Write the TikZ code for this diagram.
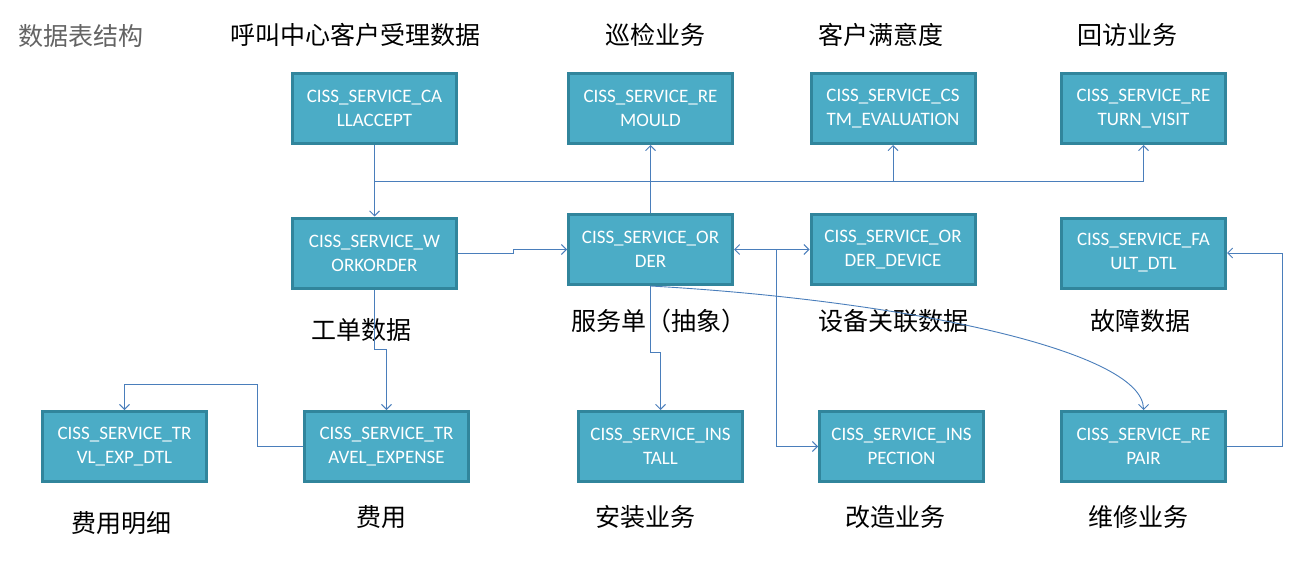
\documentclass[tikz,border=0pt]{standalone}
\usepackage{fontspec}
\usetikzlibrary{arrows.meta}
\newfontfamily\cjk{Noto Sans CJK SC}
\newfontfamily\boxfont{Carlito}
\definecolor{boxfill}{RGB}{75,172,198}
\definecolor{boxedge}{RGB}{49,133,156}
\definecolor{linkblue}{RGB}{74,126,187}
\definecolor{titlegray}{RGB}{100,100,100}

\begin{document}
\begin{tikzpicture}[x=1pt,y=-1pt,
    tbl/.style={draw=boxedge, fill=boxfill, line width=3pt, minimum width=164pt,
        minimum height=70pt, inner sep=0pt, text=white, align=center,
        font=\boxfont\fontsize{19}{24}\selectfont},
    lbl/.style={font=\cjk\fontsize{25}{28}\selectfont},
    conn/.style={->, >={Straight Barb[length=5pt,width=10pt]}, draw=linkblue, line width=0.9pt}]
            \useasboundingbox (0,0) rectangle (1297,562);
            \node[lbl, text=titlegray, anchor=west, inner sep=0pt] (title) at (18,36){数据表结构};
            % top row
            \node[tbl] (callaccept) at (374.5,108.5){CISS\_SERVICE\_CA\\LLACCEPT};
            \node[tbl] (remould) at (650.5,108.5){CISS\_SERVICE\_RE\\MOULD};
            \node[tbl] (cstmeval) at (893,108.5){CISS\_SERVICE\_CS\\TM\_EVALUATION};
            \node[tbl] (returnvisit) at (1143.5,108.5){CISS\_SERVICE\_RE\\TURN\_VISIT};
            \node[lbl] (callacceptlbl) at (355,35){呼叫中心客户受理数据};
            \node[lbl] (remouldlbl) at (655,35){巡检业务};
            \node[lbl] (cstmevallbl) at (881,35){客户满意度};
            \node[lbl] (returnvisitlbl) at (1127,35){回访业务};
            % middle row
            \node[tbl] (workorder) at (374.5,253){CISS\_SERVICE\_W\\ORKORDER};
            \node[tbl] (order) at (650.5,249.5){CISS\_SERVICE\_OR\\DER};
            \node[tbl] (orderdevice) at (893,249.5){CISS\_SERVICE\_OR\\DER\_DEVICE};
            \node[tbl] (faultdtl) at (1143.5,253){CISS\_SERVICE\_FA\\ULT\_DTL};
            \node[lbl] (workorderlbl) at (361,330){工单数据};
            \node[lbl] (orderlbl) at (659,321){服务单（抽象）};
            \node[lbl] (orderdevicelbl) at (893,321){设备关联数据};
            \node[lbl] (faultdtllbl) at (1140,321){故障数据};
            % bottom row
            \node[tbl] (trvlexpdtl) at (124.5,446.5){CISS\_SERVICE\_TR\\VL\_EXP\_DTL};
            \node[tbl] (travelexpense) at (386.5,446.5){CISS\_SERVICE\_TR\\AVEL\_EXPENSE};
            \node[tbl] (install) at (660.5,446.5){CISS\_SERVICE\_INS\\TALL};
            \node[tbl] (inspection) at (901.5,446.5){CISS\_SERVICE\_INS\\PECTION};
            \node[tbl] (repair) at (1143.5,446.5){CISS\_SERVICE\_RE\\PAIR};
            \node[lbl] (trvlexpdtllbl) at (121,523){费用明细};
            \node[lbl] (travelexpenselbl) at (381,517){费用};
            \node[lbl] (installlbl) at (645,517){安装业务};
            \node[lbl] (inspectionlbl) at (895,517){改造业务};
            \node[lbl] (repairlbl) at (1138,517){维修业务};

            \coordinate (split) at (374.5,181);
            \coordinate (devsplit) at (776,249.5);
            \coordinate (expbend) at (257,384);
            \draw[conn] (callaccept) -- (workorder);
            \draw[conn] (split) -| (cstmeval.south);
            \draw[conn] (split) -| (returnvisit.south);
            \draw[conn] (order) -- (remould);
            \draw[conn] (workorder.east) -- ++(55,0) |- (order.west);
            \draw[conn] (devsplit) -- (order.east);
            \draw[conn] (devsplit) -- (orderdevice.west);
            \draw[conn] (devsplit) |- (inspection.west);
            \draw[conn] (order.south) -- ++(0,66) -| (install.north);
            \draw[conn] (order.south) .. controls (900,300) and (1143.5,350) .. (repair.north);
            \draw[conn] (repair.east) -- ++(55,0) |- (faultdtl.east);
            \draw[conn] (workorder.south) -- ++(0,60) -| (travelexpense.north);
            \draw[conn] (travelexpense.west) -| (expbend) -| (trvlexpdtl.north);
        \end{tikzpicture}
\end{document}
